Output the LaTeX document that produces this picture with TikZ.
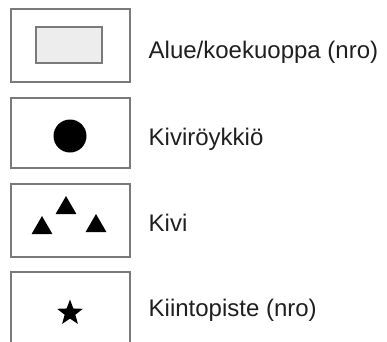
\documentclass[tikz,border=0pt]{standalone}
\usepackage{fontspec}
\setmainfont{Liberation Sans}
\usetikzlibrary{shapes.geometric}
\definecolor{boxgray}{HTML}{7A7A7A}
\definecolor{fillgray}{HTML}{EDEDED}
\tikzset{
  legbox/.style={draw=boxgray, line width=2pt},
  lbl/.style={anchor=base west, inner sep=0pt, font=\fontsize{24}{26}\selectfont, text=black!88},
  tri/.style={fill=black, draw=none, regular polygon, regular polygon sides=3, inner sep=0pt, minimum size=24pt},
}
\begin{document}
\begin{tikzpicture}[x=1pt,y=-1pt]
\useasboundingbox (0,0) rectangle (387,341);
\clip (0,0) rectangle (387,341);
% box 1
\draw[legbox] (11,9) rectangle (130,82);
\draw[draw=boxgray, line width=1.8pt, fill=fillgray] (36,27) rectangle (102,63);
\node[lbl] (t1) at (148.5,58) {Alue/koekuoppa (nro)};
% box 2
\draw[legbox] (11,98) rectangle (130,168);
\fill[black] (70,136) circle (16.5);
\node[lbl] (t2) at (148.5,145) {Kiviröykkiö};
% box 3
\draw[legbox] (11,184) rectangle (130,257);
\node[tri] (a1) at (66,208) {};
\node[tri] (a2) at (42,228) {};
\node[tri] (a3) at (96,226) {};
\node[lbl] (t3) at (148.5,231) {Kivi};
% box 4
\draw[legbox] (11,350) -- (11,272) -- (130,272) -- (130,350);
\node[fill=black, star, star points=5, star point ratio=2.4, inner sep=0pt, minimum size=27pt] (s) at (70,313) {};
\node[lbl] (t4) at (148.5,316) {Kiintopiste (nro)};
\end{tikzpicture}
\end{document}
